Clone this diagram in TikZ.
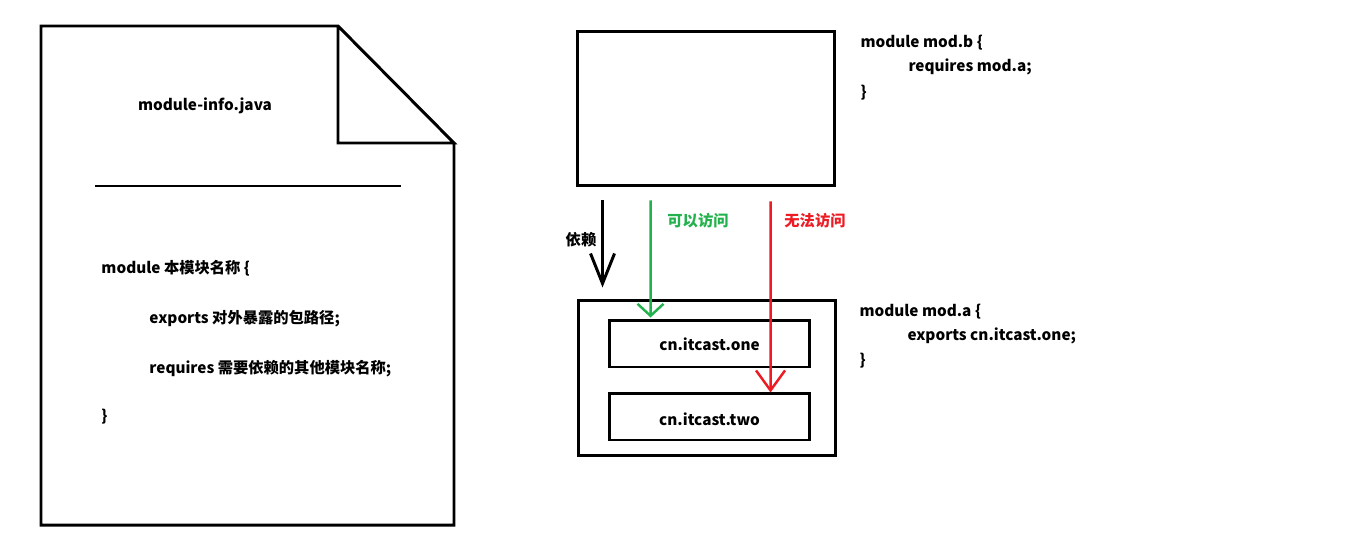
\documentclass[tikz,border=0pt]{standalone}
\usepackage{fontspec}
\setmainfont{Noto Sans CJK SC}
\usetikzlibrary{arrows.meta, positioning, calc}

\begin{document}
\begin{tikzpicture}[x=0.02cm, y=-0.02cm, line width=1.7pt,
  box/.style={draw, line width=1.7pt, inner sep=0pt, minimum width=5.16cm, minimum height=3.1cm},
  pkgbox/.style={draw, line width=1.7pt, inner sep=0pt, minimum width=4.02cm, minimum height=0.94cm},
  code/.style={anchor=west, inner sep=0pt, yshift=-1.3pt, font=\fontsize{8.7}{10}\selectfont\bfseries},
  lbl/.style={inner sep=0pt, yshift=-1.3pt, font=\fontsize{8.7}{10}\selectfont\bfseries}]
\useasboundingbox (0,0) rectangle (1350,555);

% module-info.java file sheet
\coordinate (fold) at (338,143);
\draw[line join=miter] (454,143) -- (454,525) -- (41,525) -- (41,26) -- (338,26) -- (454,143) -- (fold) -- (338,26);
\draw (95,186) -- (401,186);
\node[lbl] (fname) at (205,104) {module-info.java};
\node[code] (m1) at (100,266) {module 本模块名称 \{};
\node[code] (m2) at (148,316) {exports 对外暴露的包路径;};
\node[code] (m3) at (148,366) {requires 需要依赖的其他模块名称;};
\node[code] (m4) at (100,414) {\}};

% module b
\node[box] (modb) at (706,108.5) {};
\node[code] (b1) at (859,40) {module mod.b \{};
\node[code] (b2) at (907,65) {requires mod.a;};
\node[code] (b3) at (859,90) {\}};

% module a with its two packages
\node[box, minimum height=3.12cm] (moda) at (707,378) {};
\node[pkgbox] (one) at (709.5,343.5) {};
\node[lbl, yshift=1pt] at (one) {cn.itcast.one};
\node[pkgbox] (two) at (709.5,416.5) {};
\node[lbl] at (two) {cn.itcast.two};
\node[code] (a1) at (858,309) {module mod.a \{};
\node[code] (a2) at (906,334) {exports cn.itcast.one;};
\node[code] (a3) at (858,358) {\}};

% arrows
\draw[-{Straight Barb[length=0.6cm, width=0.48cm]}] ($(modb.south west)+(27,13)$) -- ($(moda.north west)+(26,-11)$);
\node[lbl] (dep) at (581,237) {依赖};
\draw[line width=1.4pt, color={rgb,255:red,34;green,177;blue,76}, -{Straight Barb[length=0.24cm, width=0.52cm]}] ($(modb.south west)+(75,13)$) -- ($(one.north west)+(43,-1)$);
\node[lbl, text={rgb,255:red,34;green,177;blue,76}] (ok) at (698,218) {可以访问};
\draw[line width=1.4pt, color={rgb,255:red,237;green,28;blue,36}, -{Straight Barb[length=0.4cm, width=0.58cm]}] ($(modb.south west)+(195,14)$) -- ($(two.north west)+(163,1)$);
\node[lbl, text={rgb,255:red,237;green,28;blue,36}] (no) at (815,218) {无法访问};
\end{tikzpicture}
\end{document}
